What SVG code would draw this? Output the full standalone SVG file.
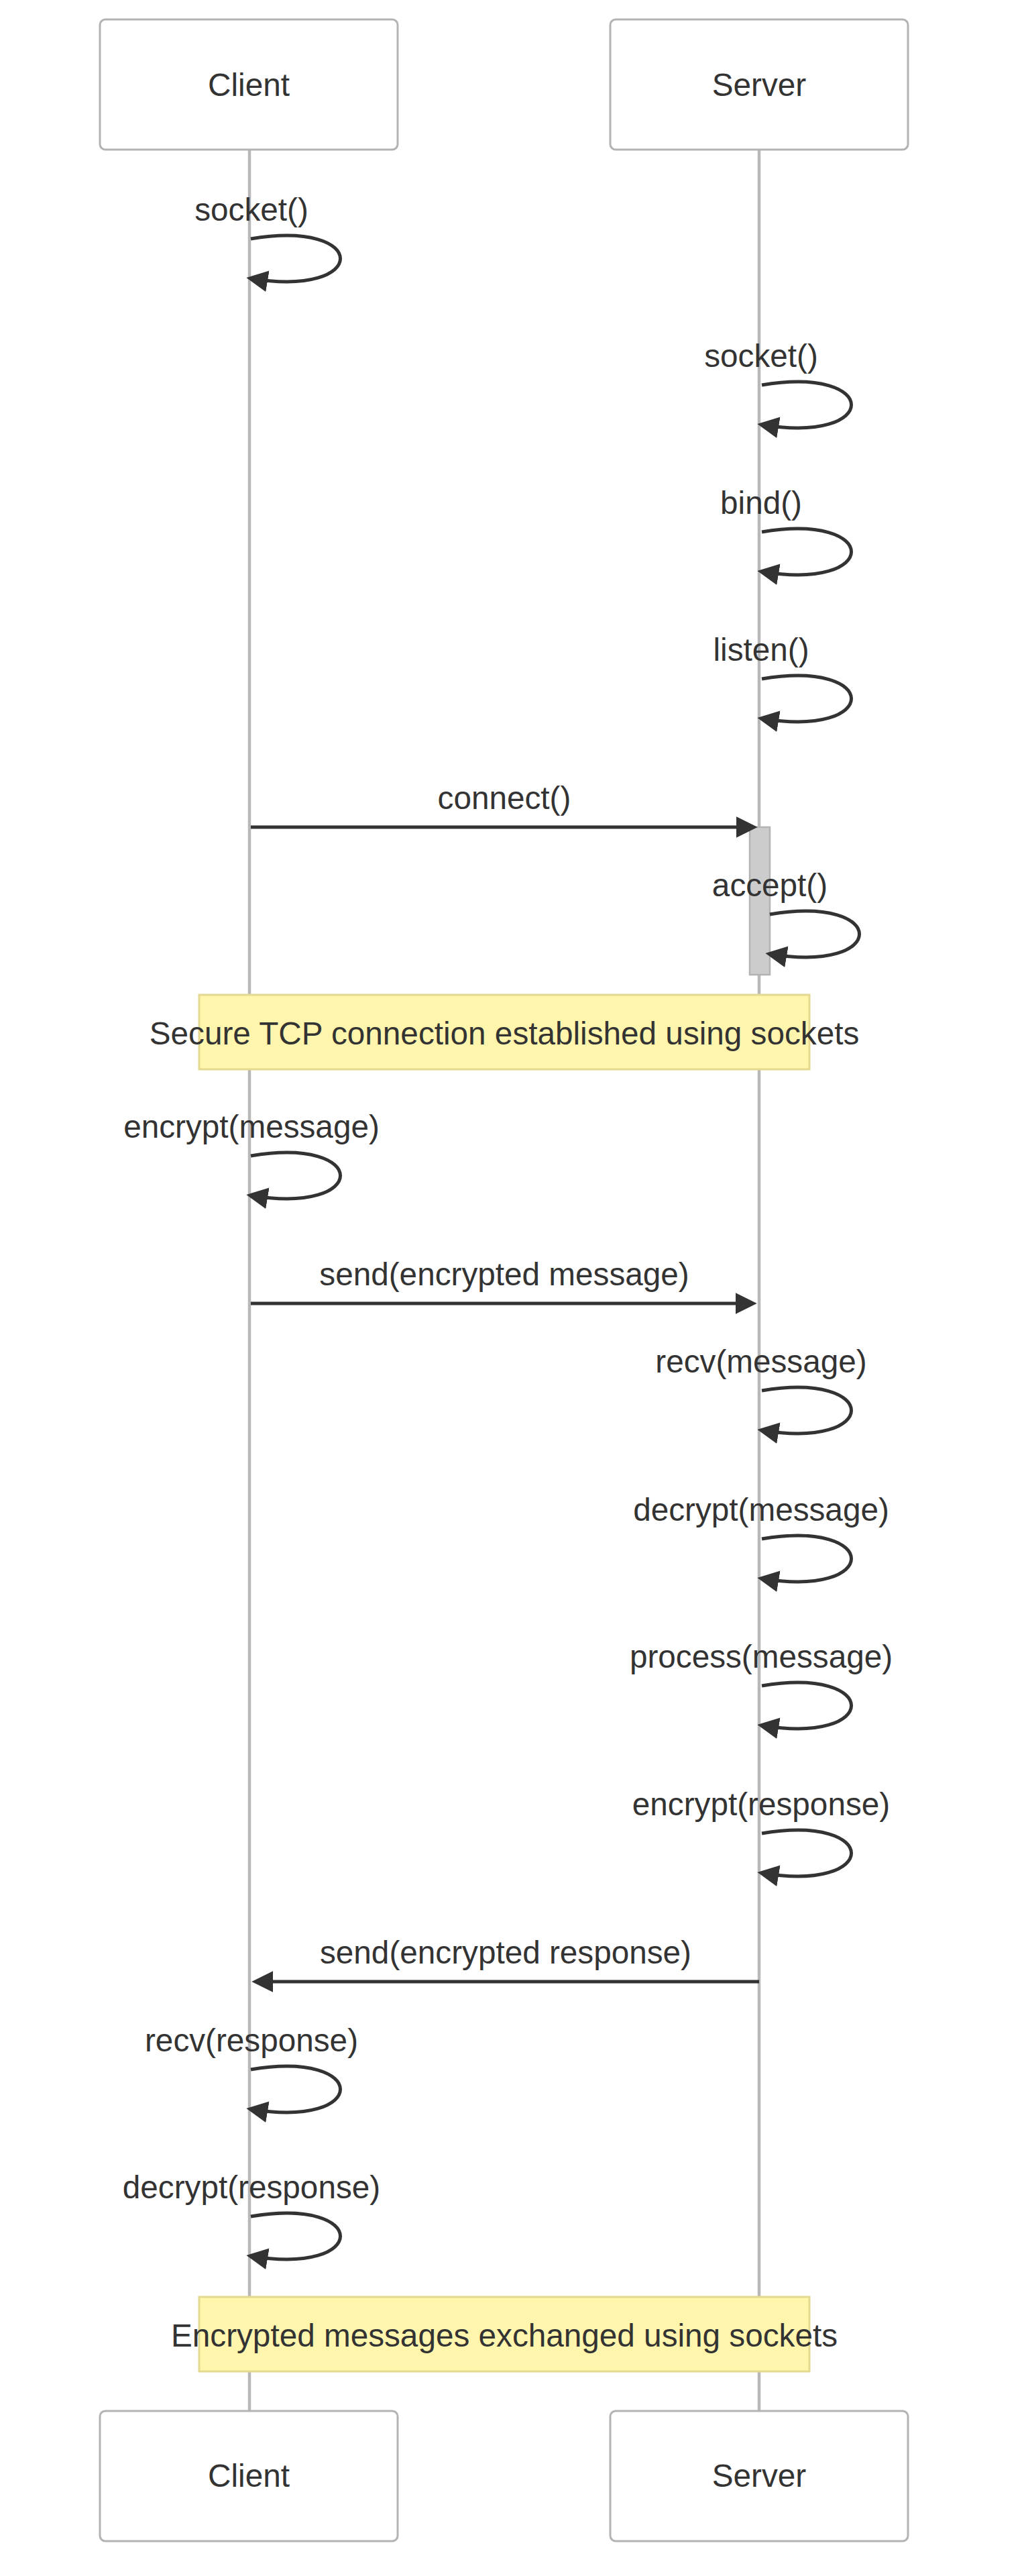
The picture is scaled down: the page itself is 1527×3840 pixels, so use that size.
<svg xmlns="http://www.w3.org/2000/svg" width="1527" height="3840" viewBox="0 0 1527 3840">
<style>
  .actor { fill: #ffffff; stroke: #b3b3b3; stroke-width: 3; }
  .actorText { font-family: "Liberation Sans", Arial, sans-serif; font-size: 47.7px; fill: #333333; text-anchor: middle; }
  .lifeline { stroke: #b8b8b8; stroke-width: 4.5; }
  .activation { fill: #cccccc; stroke: #b3b3b3; stroke-width: 2.5; }
  .note { fill: #fff5ad; stroke: #e4d98f; stroke-width: 3; }
  .noteText { font-family: "Liberation Sans", Arial, sans-serif; font-size: 47.7px; fill: #333333; text-anchor: middle; }
  .msg { fill: none; stroke: #333333; stroke-width: 5; marker-end: url(#arrow); }
  .msgText { font-family: "Liberation Sans", Arial, sans-serif; font-size: 47.7px; fill: #333333; text-anchor: middle; }
</style>
<defs>
  <marker id="arrow" viewBox="0 0 10 10" refX="7.9" refY="5" markerWidth="32" markerHeight="32" markerUnits="userSpaceOnUse" orient="auto">
    <path d="M0 0 L10 5 L0 10 z" fill="#333333"/>
  </marker>
</defs>
<rect x="0" y="0" width="1527" height="3840" fill="#ffffff"/>

<g id="lifelines">
  <line class="lifeline" x1="372" y1="223" x2="372" y2="3594"/>
  <line class="lifeline" x1="1132" y1="223" x2="1132" y2="3594"/>
</g>

<g id="actor-client-top">
  <rect class="actor" x="149" y="29" width="444" height="194" rx="8" ry="8"/>
  <text class="actorText" x="371" y="143">Client</text>
</g>
<g id="actor-server-top">
  <rect class="actor" x="910" y="29" width="444" height="194" rx="8" ry="8"/>
  <text class="actorText" x="1132" y="143">Server</text>
</g>
<g id="actor-client-bottom">
  <rect class="actor" x="149" y="3594" width="444" height="194" rx="8" ry="8"/>
  <text class="actorText" x="371" y="3707">Client</text>
</g>
<g id="actor-server-bottom">
  <rect class="actor" x="910" y="3594" width="444" height="194" rx="8" ry="8"/>
  <text class="actorText" x="1132" y="3707">Server</text>
</g>

<g id="activation-server">
  <rect class="activation" x="1118" y="1233" width="30" height="220"/>
</g>

<g id="note-1">
  <rect class="note" x="297" y="1483" width="910" height="111"/>
  <text class="noteText" x="752" y="1557">Secure TCP connection established using sockets</text>
</g>
<g id="note-2">
  <rect class="note" x="297" y="3424" width="910" height="111"/>
  <text class="noteText" x="752" y="3498">Encrypted messages exchanged using sockets</text>
</g>

<g id="connectors">
  <g id="m1">
    <text class="msgText" x="375" y="329">socket()</text>
    <path class="msg" d="M374 356 C552 326 552 445 374 415"/>
  </g>
  <g id="m2">
    <text class="msgText" x="1135" y="547">socket()</text>
    <path class="msg" d="M1136 574 C1314 544 1314 663 1136 633"/>
  </g>
  <g id="m3">
    <text class="msgText" x="1135" y="766">bind()</text>
    <path class="msg" d="M1136 793 C1314 763 1314 882 1136 852"/>
  </g>
  <g id="m4">
    <text class="msgText" x="1135" y="985">listen()</text>
    <path class="msg" d="M1136 1012 C1314 982 1314 1101 1136 1071"/>
  </g>
  <g id="m5">
    <text class="msgText" x="752" y="1206">connect()</text>
    <line class="msg" x1="374" y1="1233" x2="1123" y2="1233"/>
  </g>
  <g id="m6">
    <text class="msgText" x="1148" y="1336">accept()</text>
    <path class="msg" d="M1148 1363 C1326 1333 1326 1452 1148 1422"/>
  </g>
  <g id="m7">
    <text class="msgText" x="375" y="1696">encrypt(message)</text>
    <path class="msg" d="M374 1723 C552 1693 552 1812 374 1782"/>
  </g>
  <g id="m8">
    <text class="msgText" x="752" y="1916">send(encrypted message)</text>
    <line class="msg" x1="374" y1="1943" x2="1122" y2="1943"/>
  </g>
  <g id="m9">
    <text class="msgText" x="1135" y="2046">recv(message)</text>
    <path class="msg" d="M1136 2073 C1314 2043 1314 2162 1136 2132"/>
  </g>
  <g id="m10">
    <text class="msgText" x="1135" y="2267">decrypt(message)</text>
    <path class="msg" d="M1136 2294 C1314 2264 1314 2383 1136 2353"/>
  </g>
  <g id="m11">
    <text class="msgText" x="1135" y="2486">process(message)</text>
    <path class="msg" d="M1136 2513 C1314 2483 1314 2602 1136 2572"/>
  </g>
  <g id="m12">
    <text class="msgText" x="1135" y="2706">encrypt(response)</text>
    <path class="msg" d="M1136 2733 C1314 2703 1314 2822 1136 2792"/>
  </g>
  <g id="m13">
    <text class="msgText" x="754" y="2927">send(encrypted response)</text>
    <line class="msg" x1="1132" y1="2954" x2="382" y2="2954"/>
  </g>
  <g id="m14">
    <text class="msgText" x="375" y="3058">recv(response)</text>
    <path class="msg" d="M374 3085 C552 3055 552 3174 374 3144"/>
  </g>
  <g id="m15">
    <text class="msgText" x="375" y="3277">decrypt(response)</text>
    <path class="msg" d="M374 3304 C552 3274 552 3393 374 3363"/>
  </g>
</g>
</svg>
